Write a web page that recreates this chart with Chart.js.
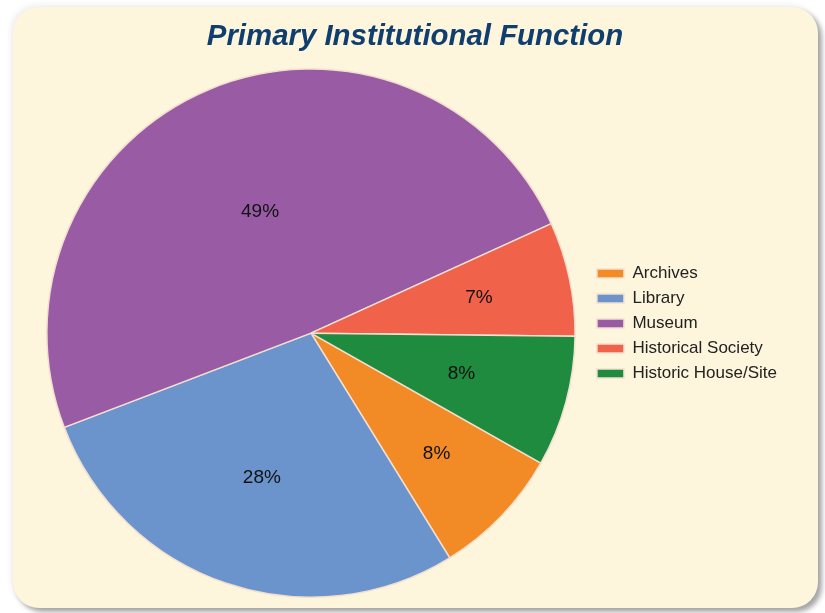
<!DOCTYPE html>
<html>
<head>
<meta charset="utf-8">
<script src="https://cdn.jsdelivr.net/npm/chart.js@4"></script>
<style>
    body { margin: 0; background: #ffffff; }
    #panel {
        position: absolute;
        left: 13px; top: 7px;
        width: 805px; height: 601px;
        background: #fdf5dc;
        border-radius: 26px;
        box-shadow: 4px 4px 5px rgba(0, 0, 0, 0.35), -2px -2px 6px rgba(0, 0, 0, 0.07);
        overflow: hidden;
    }
</style>
</head>
<body>
<div id="panel"><canvas id="pieChart" width="805" height="601"></canvas></div>
<script>
const categories = ['Archives', 'Library', 'Museum', 'Historical Society', 'Historic House/Site'];
const shares = [8, 28, 49, 7, 8];
const sliceColors = ['#f28b26', '#6b94cd', '#9a5ba5', '#f0634a', '#1f8b3f'];

// percent labels drawn inside each slice
const sliceLabels = {
    id: 'sliceLabels',
    afterDatasetsDraw(chart, args, opts) {
        const ctx = chart.ctx;
        const meta = chart.getDatasetMeta(0);
        ctx.save();
        ctx.font = '19px Arial, "Liberation Sans", sans-serif';
        ctx.fillStyle = '#111111';
        ctx.textAlign = 'center';
        ctx.textBaseline = 'middle';
        meta.data.forEach((arc, i) => {
            const mid = (arc.startAngle + arc.endAngle) / 2;
            const r = arc.outerRadius * opts.radius[i];
            ctx.fillText(shares[i] + '%', arc.x + Math.cos(mid) * r, arc.y + Math.sin(mid) * r);
        });
        ctx.restore();
    }
};

// nudge the legend down and the title to the panel centre
const boxShift = {
    id: 'boxShift',
    afterLayout(chart) {
        chart.legend.top += 21;
        chart.legend.bottom += 21;
        chart.titleBlock.left += 5;
        chart.titleBlock.right += 5;
    }
};

new Chart(document.getElementById('pieChart'), {
    type: 'pie',
    data: {
        labels: categories,
        datasets: [{
            data: shares,
            backgroundColor: sliceColors,
            borderColor: '#f2dfcf',
            borderWidth: 1.5,
        }],
    },
    options: {
        responsive: false,
        animation: false,
        rotation: 119.5,
        layout: { padding: { left: 20, right: 31, top: 0, bottom: 10 } },
        plugins: {
            title: {
                display: true,
                text: 'Primary Institutional Function',
                color: '#0f3e6f',
                font: { family: 'Arial, "Liberation Sans", sans-serif', size: 29.4, weight: 'bold', style: 'italic' },
                padding: { top: 12, bottom: 14 },
            },
            legend: {
                position: 'right',
                labels: {
                    boxWidth: 27,
                    boxHeight: 9,
                    padding: 8,
                    color: '#222222',
                    font: { family: 'Arial, "Liberation Sans", sans-serif', size: 17 },
                },
            },
            tooltip: { enabled: false },
            sliceLabels: { radius: [0.66, 0.58, 0.5, 0.65, 0.59] },
        },
    },
    plugins: [sliceLabels, boxShift],
});
</script>
</body>
</html>
